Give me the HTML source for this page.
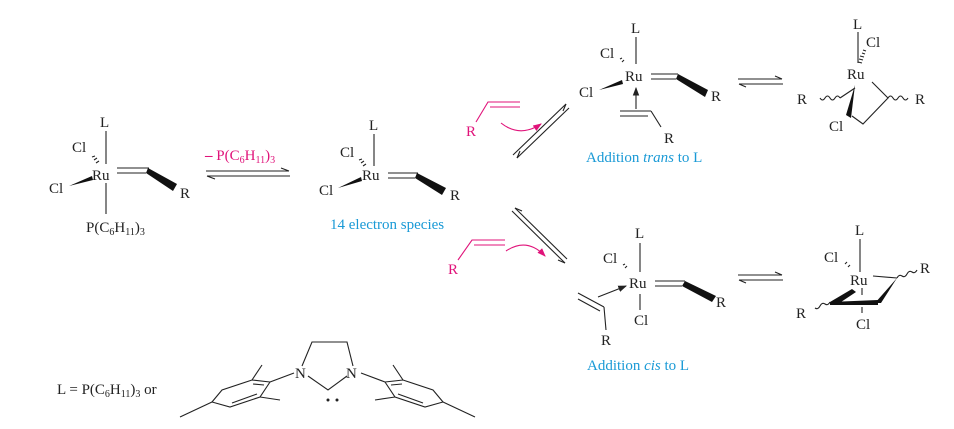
<!DOCTYPE html>
<html><head><meta charset="utf-8"><style>
html,body{margin:0;padding:0;background:#fff;}
svg{display:block;}
text{font-family:"Liberation Serif",serif;font-size:15px;fill:#222;}
.m{fill:#e0137a;}
.b{fill:#1a9ad6;}
line,path,polyline{stroke:#222;stroke-width:1.1;fill:none;}
.w{fill:#111;stroke:none;}
.mg{stroke:#e0137a;}
</style></head><body>
<svg width="954" height="429" viewBox="0 0 954 429" xmlns="http://www.w3.org/2000/svg">
<defs>
<marker id="ah" markerWidth="8" markerHeight="6" refX="7" refY="3" orient="auto"><path d="M0,0 L8,3 L0,6z" style="fill:#222;stroke:none"/></marker>
<marker id="am" markerWidth="8" markerHeight="6" refX="7" refY="3" orient="auto"><path d="M0,0 L8,3 L0,6z" style="fill:#e0137a;stroke:none"/></marker>
</defs>

<!-- Structure 1 -->
<text x="100" y="127">L</text>
<line x1="106" y1="131" x2="106" y2="164"/>
<text x="72" y="152">Cl</text>
<path d="M92,157 l3,-1 M94,160 l3,-2 M96,163 l3,-2" />
<text x="92" y="180">Ru</text>
<text x="49" y="193">Cl</text>
<polygon class="w" points="69,186 92,176 93,180"/>
<line x1="106" y1="183" x2="106" y2="214"/>
<text x="86" y="232">P(C<tspan font-size="10" dy="3">6</tspan><tspan dy="-3">H</tspan><tspan font-size="10" dy="3">11</tspan><tspan dy="-3">)</tspan><tspan font-size="10" dy="3">3</tspan></text>
<line x1="117" y1="168" x2="149" y2="168"/>
<line x1="117" y1="173" x2="146" y2="173"/>
<polygon class="w" points="148,168 177,184 173,191 146,173"/>
<text x="180" y="198">R</text>

<!-- arrow 1 -->
<text x="205" y="160" class="m"><tspan font-weight="bold">–</tspan> P(C<tspan font-size="10" dy="3">6</tspan><tspan dy="-3">H</tspan><tspan font-size="10" dy="3">11</tspan><tspan dy="-3">)</tspan><tspan font-size="10" dy="3">3</tspan></text>
<line x1="206" y1="171" x2="289" y2="171"/>
<path d="M289,171 l-8,-3"/>
<line x1="207" y1="176" x2="290" y2="176"/>
<path d="M207,176 l8,3"/>

<!-- Structure 2 -->
<text x="369" y="130">L</text>
<line x1="374" y1="134" x2="374" y2="166"/>
<text x="340" y="157">Cl</text>
<path d="M359,160 l3,-1 M361,163 l3,-2 M363,166 l3,-2"/>
<text x="362" y="180">Ru</text>
<text x="319" y="195">Cl</text>
<polygon class="w" points="338,188 361,177 362,181"/>
<line x1="388" y1="173" x2="418" y2="173"/>
<line x1="388" y1="178" x2="415" y2="178"/>
<polygon class="w" points="417,173 446,188 442,195 415,178"/>
<text x="450" y="200">R</text>
<text x="330" y="229" class="b">14 electron species</text>

<!-- top magenta alkene -->
<text x="466" y="136" class="m">R</text>
<polyline class="mg" points="476,122 488,102 520,102"/>
<line class="mg" x1="490" y1="107" x2="520" y2="107"/>
<path class="mg" d="M501,123 Q520,138 541,124" marker-end="url(#am)"/>
<line x1="513" y1="155" x2="566" y2="104"/>
<path d="M566,104 l-3,7"/>
<line x1="517" y1="158" x2="569" y2="108"/>
<path d="M517,158 l3,-7"/>

<!-- Structure 3 -->
<text x="631" y="33">L</text>
<line x1="636" y1="37" x2="636" y2="64"/>
<text x="600" y="58">Cl</text>
<path d="M620,59 l2,-1 M622,62 l2,-2"/>
<text x="625" y="81">Ru</text>
<text x="579" y="97">Cl</text>
<polygon class="w" points="599,90 622,80 623,84"/>
<line x1="651" y1="74" x2="678" y2="74"/>
<line x1="651" y1="79" x2="676" y2="79"/>
<polygon class="w" points="678,74 708,90 705,97 676,79"/>
<text x="711" y="101">R</text>
<line x1="636" y1="109" x2="636" y2="88" marker-end="url(#ah)"/>
<line x1="620" y1="111" x2="651" y2="111"/>
<line x1="620" y1="116" x2="648" y2="116"/>
<line x1="651" y1="111" x2="661" y2="127"/>
<text x="664" y="143">R</text>
<text x="586" y="162" class="b">Addition <tspan font-style="italic">trans</tspan> to L</text>

<line x1="738" y1="79" x2="782" y2="79"/><path d="M782,79 l-7,-3"/>
<line x1="739" y1="84" x2="783" y2="84"/><path d="M739,84 l7,3"/>

<!-- Structure 4 -->
<text x="853" y="29">L</text>
<line x1="858" y1="32" x2="858" y2="63"/>
<text x="866" y="47">Cl</text>
<path d="M858,62 l4,1 M859,59 l4,1 M860,56 l4,1 M862,53 l3,1 M863,50 l3,1"/>
<text x="847" y="79">Ru</text>
<polyline points="872,82 888,98 863,124 852,116"/>
<polygon class="w" points="855,85 851,118 846,115"/>
<line x1="855" y1="88" x2="840" y2="98"/>
<path d="M840,98 q-2.5,-4 -5,0 t-5,0 t-5,0 t-5,0"/>
<text x="797" y="104">R</text>
<path d="M888,98 q2.5,-4 5,0 t5,0 t5,0 t5,0"/>
<text x="915" y="104">R</text>
<text x="829" y="131">Cl</text>

<!-- bottom magenta alkene -->
<text x="448" y="274" class="m">R</text>
<polyline class="mg" points="458,260 472,240 505,240"/>
<line class="mg" x1="474" y1="245" x2="505" y2="245"/>
<path class="mg" d="M506,251 Q527,237 545,256" marker-end="url(#am)"/>
<line x1="512" y1="211" x2="565" y2="263"/>
<path d="M565,263 l-7,-3"/>
<line x1="515" y1="208" x2="567" y2="259"/>
<path d="M515,208 l7,3"/>

<!-- Structure 5 -->
<text x="635" y="238">L</text>
<line x1="640" y1="243" x2="640" y2="272"/>
<text x="603" y="263">Cl</text>
<path d="M623,265 l2,-1 M625,268 l2,-2"/>
<text x="629" y="288">Ru</text>
<line x1="640" y1="294" x2="640" y2="310"/>
<text x="634" y="325">Cl</text>
<line x1="655" y1="281" x2="685" y2="281"/>
<line x1="655" y1="286" x2="682" y2="286"/>
<polygon class="w" points="685,281 716,296 712,302 682,286"/>
<text x="716" y="307">R</text>
<line x1="578" y1="293" x2="604" y2="307"/>
<line x1="578" y1="299" x2="600" y2="311"/>
<line x1="604" y1="307" x2="606" y2="330"/>
<text x="601" y="345">R</text>
<line x1="598" y1="297" x2="626" y2="286" marker-end="url(#ah)"/>
<text x="587" y="370" class="b">Addition <tspan font-style="italic">cis</tspan> to L</text>

<line x1="738" y1="275" x2="782" y2="275"/><path d="M782,275 l-7,-3"/>
<line x1="739" y1="280" x2="783" y2="280"/><path d="M739,280 l7,3"/>

<!-- Structure 6 -->
<text x="855" y="235">L</text>
<line x1="860" y1="239" x2="860" y2="272"/>
<text x="824" y="262">Cl</text>
<path d="M845,264 l2,-2 M848,267 l2,-2"/>
<text x="850" y="285">Ru</text>
<line x1="873" y1="276" x2="897" y2="278"/>
<polygon class="w" points="897,278 881,303 875,303"/>
<polygon class="w" points="830,302 878,300 878,305 830,305"/>
<polygon class="w" points="830,302 852,289 856,292 838,304"/>
<line x1="862" y1="288" x2="862" y2="295"/>
<line x1="862" y1="307" x2="862" y2="313"/>
<text x="856" y="329">Cl</text>
<path d="M897,278 q2,-4 5,-2 t5,-2 t5,-2 t5,-2"/>
<text x="920" y="273">R</text>
<path d="M830,302 q-2,4 -5,2 t-5,2 t-5,2"/>
<text x="796" y="318">R</text>

<!-- L definition -->
<text x="57" y="394">L = P(C<tspan font-size="10" dy="3">6</tspan><tspan dy="-3">H</tspan><tspan font-size="10" dy="3">11</tspan><tspan dy="-3">)</tspan><tspan font-size="10" dy="3">3</tspan><tspan dy="-3"> or</tspan></text>
<text x="295" y="378">N</text>
<text x="346" y="378">N</text>
<polyline points="302,366 312,342 347,342 353,366"/>
<polyline points="308,376 328,390 347,376"/>
<circle cx="328" cy="400" r="1.5" style="fill:#222"/>
<circle cx="337" cy="400" r="1.5" style="fill:#222"/>
<!-- left aryl -->
<line x1="294" y1="373" x2="270" y2="382"/>
<polygon points="270,382 252,380 222,390 212,402 230,407 260,397" style="fill:none;stroke:#222;stroke-width:1.1"/>
<line x1="253" y1="384" x2="264" y2="385" />
<line x1="232" y1="403" x2="257" y2="394"/>
<line x1="252" y1="380" x2="262" y2="365"/>
<line x1="260" y1="397" x2="280" y2="400"/>
<line x1="212" y1="402" x2="180" y2="417"/>
<!-- right aryl -->
<line x1="361" y1="373" x2="385" y2="382"/>
<polygon points="385,382 403,380 433,390 443,402 425,407 395,397" style="fill:none;stroke:#222;stroke-width:1.1"/>
<line x1="402" y1="384" x2="391" y2="385"/>
<line x1="423" y1="403" x2="398" y2="394"/>
<line x1="403" y1="380" x2="393" y2="365"/>
<line x1="395" y1="397" x2="375" y2="400"/>
<line x1="443" y1="402" x2="475" y2="417"/>
</svg>
</body></html>
